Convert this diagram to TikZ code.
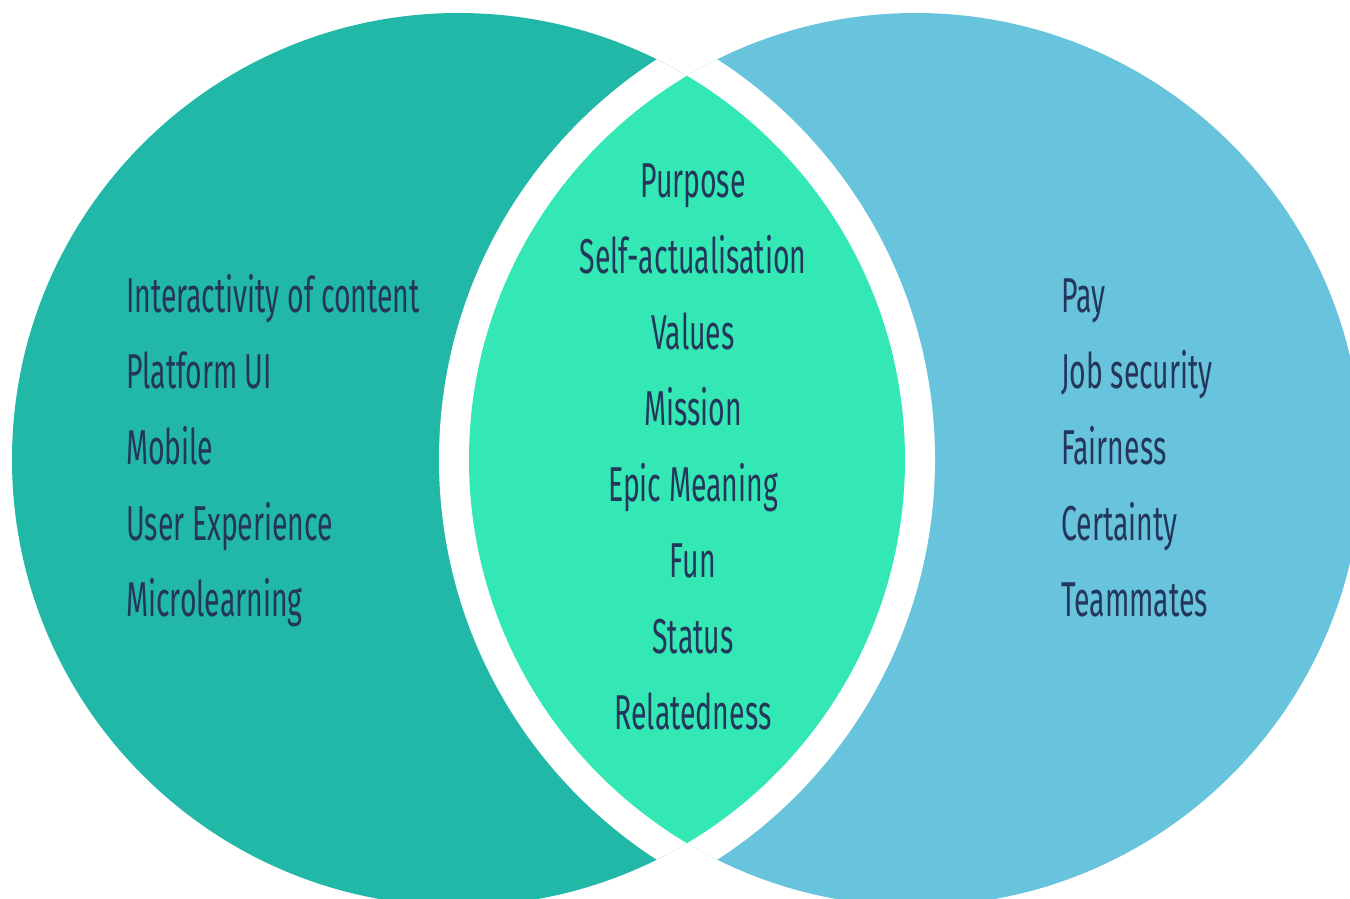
\documentclass[tikz,border=0pt]{standalone}
\usepackage{fontspec}
\setmainfont{Fira Sans}[FakeStretch=0.58]

\definecolor{leftteal}{RGB}{34,184,168}
\definecolor{rightblue}{RGB}{104,196,220}
\definecolor{lensgreen}{RGB}{52,232,182}
\definecolor{inkblue}{RGB}{36,54,90}

\begin{document}
\begin{tikzpicture}[x=1pt,y=-1pt,
  item/.style={text=inkblue,inner sep=0pt,font=\fontsize{49}{56}\selectfont}]
  \useasboundingbox (0,0) rectangle (1350,899);
  \coordinate (cl) at (458.5,459.5);
  \coordinate (cr) at (915.5,459.5);
  % the two sets
  \fill[leftteal] (cl) circle[radius=446.5pt];
  \fill[rightblue] (cr) circle[radius=446.5pt];
  % white rim round the overlap
  \begin{scope}
    \clip (cl) circle[radius=446.5pt];
    \fill[white] (cr) circle[radius=476.5pt];
  \end{scope}
  \begin{scope}
    \clip (cr) circle[radius=446.5pt];
    \fill[white] (cl) circle[radius=476.5pt];
  \end{scope}
  % the overlap
  \begin{scope}
    \clip (cl) circle[radius=446.5pt];
    \fill[lensgreen] (cr) circle[radius=446.5pt];
  \end{scope}
  % labels
  \foreach \txt [count=\i] in {Interactivity of content,Platform UI,Mobile,
      User Experience,Microlearning}
    \node[item,anchor=base west] (left\i) at (126,{312+76*(\i-1)}) {\txt};
  \foreach \txt [count=\i] in {Purpose,Self-actualisation,Values,Mission,
      Epic Meaning,Fun,Status,Relatedness}
    \node[item,anchor=base] (mid\i) at (693,{197+76*(\i-1)}) {\txt};
  \foreach \txt [count=\i] in {Pay,Job security,Fairness,Certainty,Teammates}
    \node[item,anchor=base west] (right\i) at (1061,{312+76*(\i-1)}) {\txt};
\end{tikzpicture}
\end{document}
